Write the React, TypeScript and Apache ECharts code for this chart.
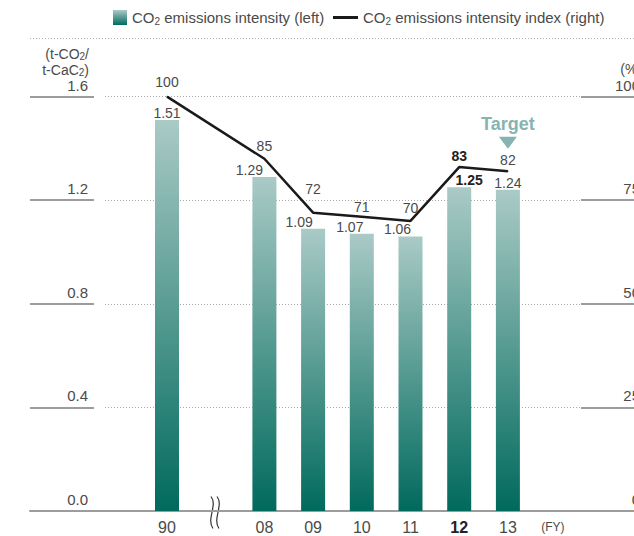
import React, { useEffect, useRef } from 'react';
import * as echarts from 'echarts';

// Fiscal years on the category axis ('' is the gap for the axis break)
const years = ['90', '', '08', '09', '10', '11', '12', '13'];
// CO2 emissions intensity, t-CO2 / t-CaC2 (left axis)
const intensity: (number | null)[] = [1.51, null, 1.29, 1.09, 1.07, 1.06, 1.25, 1.24];
// CO2 emissions intensity index, FY1990 = 100 (right axis)
const intensityIndex: (number | null)[] = [100, null, 85, 72, 71, 70, 83, 82];
const leftTicks = { min: 0, max: 1.6, interval: 0.4 };
const rightTicks = { min: 0, max: 100, interval: 25 };
const highlightYear = '12';
const targetYear = '13';

const FONT = '"Liberation Sans", Arial, Helvetica, sans-serif';
const TEXT = '#4a4a4a';
const RULE = '#9c9c9c';
const TEAL_LIGHT = '#aacac6';
const TEAL_DARK = '#006a5c';
const TARGET = '#86b4b0';

const barName = 'CO2 emissions intensity (left)';
const lineName = 'CO2 emissions intensity index (right)';

// lift of each index label above its point, keyed by year
const indexLabelLift: Record<string, number> = {
  '90': 7, '08': 5, '09': 16, '10': 2, '11': 5, '12': 4, '13': 4,
};
// sideways nudge of bar value labels so they clear the index line
const barLabelShift: Record<string, number> = {
  '08': -15, '09': -14, '10': -12, '11': -13, '12': 10,
};

const PLOT_TOP = 96.6;
const PLOT_H = 414.4;

const subRich = {
  s: { fontSize: 10, verticalAlign: 'bottom', fontFamily: FONT, color: TEXT, padding: [0, 0, -1, 0] },
};

// one line of the left scale's unit, with a subscript 2
const unitLine = (text: string, y: number) => ({
  type: 'text',
  x: 89,
  y,
  silent: true,
  style: {
    text,
    align: 'right',
    verticalAlign: 'middle',
    fontSize: 14,
    lineHeight: 14,
    fontFamily: FONT,
    fill: TEXT,
    rich: { s: { fontSize: 10, verticalAlign: 'bottom', fontFamily: FONT, fill: TEXT, lineHeight: 14 } },
  },
});

export default function App() {
  const ref = useRef<HTMLDivElement>(null);

  useEffect(() => {
    if (!ref.current) return;
    const chart = echarts.init(ref.current, undefined, { renderer: 'svg' });

    const barGradient = new echarts.graphic.LinearGradient(0, 0, 0, 1, [
      { offset: 0, color: TEAL_LIGHT },
      { offset: 1, color: TEAL_DARK },
    ]);

    const barData = intensity.map((v, i) => {
      const bold = years[i] === highlightYear;
      return {
        value: v,
        label: {
          offset: [barLabelShift[years[i]] ?? 0, 0],
          ...(bold ? { fontWeight: 'bold', color: '#222' } : {}),
        },
      };
    });

    const lineData = intensityIndex.map((v, i) => {
      const bold = years[i] === highlightYear;
      return {
        value: v,
        label: {
          distance: indexLabelLift[years[i]] ?? 5,
          ...(bold ? { fontWeight: 'bold', color: '#222' } : {}),
        },
      };
    });

    const categoryData = years.map((y) =>
      y === highlightYear
        ? { value: y, textStyle: { fontWeight: 'bold', color: '#222' } }
        : y,
    );

    const hiddenAxis = { show: false };

    const scaleLabel = {
      inside: true, margin: 6, fontSize: 15, color: TEXT, fontFamily: FONT,
      verticalAlign: 'bottom', padding: [0, 0, 4, 0],
    };

    const option: any = {
      animation: false,
      textStyle: { fontFamily: FONT },
      legend: [
        {
          data: [barName],
          left: 113,
          top: 10,
          padding: 0,
          itemWidth: 14,
          itemHeight: 15,
          icon: 'rect',
          selectedMode: false,
          formatter: () => 'CO{s|2} emissions intensity (left)',
          textStyle: { fontSize: 15, color: TEXT, fontFamily: FONT, rich: subRich },
        },
        {
          data: [{ name: lineName, icon: 'rect' }],
          left: 333,
          top: 10,
          padding: 0,
          itemWidth: 25,
          itemHeight: 3,
          selectedMode: false,
          formatter: () => 'CO{s|2} emissions intensity index (right)',
          textStyle: { fontSize: 15, color: TEXT, fontFamily: FONT, rich: subRich },
        },
      ],
      grid: [
        // bars and line
        { left: 142.65, width: 389.6, top: PLOT_TOP, height: PLOT_H },
        // dotted guide lines
        { left: 105, width: 475, top: PLOT_TOP, height: PLOT_H },
        // left scale
        { left: 30, width: 64, top: PLOT_TOP, height: PLOT_H },
        // right scale
        { left: 581, width: 65, top: PLOT_TOP, height: PLOT_H },
        // baseline
        { left: 30, width: 630, top: PLOT_TOP, height: PLOT_H },
      ],
      xAxis: [
        {
          type: 'category',
          gridIndex: 0,
          data: categoryData,
          axisLine: { show: false },
          axisTick: { show: false },
          axisLabel: { fontSize: 16, color: TEXT, margin: 8, fontFamily: FONT, interval: 0 },
          name: '(FY)',
          nameLocation: 'end',
          nameGap: 9,
          nameTextStyle: {
            fontSize: 12, color: TEXT, fontFamily: FONT,
            verticalAlign: 'top', align: 'left', padding: [10, 0, 0, 0],
          },
        },
        { type: 'value', gridIndex: 1, min: 0, max: 1, ...hiddenAxis },
        { type: 'value', gridIndex: 2, min: 0, max: 1, ...hiddenAxis },
        { type: 'value', gridIndex: 3, min: 0, max: 1, ...hiddenAxis },
        {
          type: 'value', gridIndex: 4, min: 0, max: 1,
          axisLine: { show: true, lineStyle: { color: RULE, width: 2 } },
          axisTick: { show: false },
          axisLabel: { show: false },
          splitLine: { show: false },
        },
      ],
      yAxis: [
        { type: 'value', gridIndex: 0, ...leftTicks, ...hiddenAxis },
        { type: 'value', gridIndex: 0, ...rightTicks, ...hiddenAxis },
        {
          type: 'value', gridIndex: 1, ...leftTicks,
          axisLine: { show: false }, axisTick: { show: false }, axisLabel: { show: false },
          splitLine: { show: true, lineStyle: { color: '#a8a8a8', width: 1, type: [1, 2] } },
        },
        {
          type: 'value', gridIndex: 2, position: 'right', ...leftTicks,
          axisLine: { show: false }, axisTick: { show: false },
          axisLabel: { ...scaleLabel, formatter: (v: number) => v.toFixed(1) },
          splitLine: { show: true, lineStyle: { color: RULE, width: 2 } },
        },
        {
          type: 'value', gridIndex: 3, position: 'right', ...rightTicks,
          axisLine: { show: false }, axisTick: { show: false },
          axisLabel: scaleLabel,
          splitLine: { show: true, lineStyle: { color: RULE, width: 2 } },
        },
        { type: 'value', gridIndex: 4, min: 0, max: 1, ...hiddenAxis },
      ],
      series: [
        {
          name: barName,
          type: 'bar',
          xAxisIndex: 0,
          yAxisIndex: 0,
          barWidth: 24,
          data: barData,
          itemStyle: { color: barGradient },
          label: {
            show: true, position: 'top', distance: 0,
            fontSize: 14, color: TEXT, fontFamily: FONT,
            formatter: (p: any) => (p.value == null ? '' : Number(p.value).toFixed(2)),
          },
          markPoint: {
            silent: true,
            data: [
              {
                coord: [targetYear, intensity[years.indexOf(targetYear)]],
                symbol: 'path://M0,0L18,0L9,12Z',
                symbolSize: [18, 12],
                symbolOffset: [0, -47],
                itemStyle: { color: TARGET },
                label: {
                  show: true, position: 'top', distance: 4, formatter: 'Target',
                  fontSize: 18, fontWeight: 'bold', color: TARGET, fontFamily: FONT,
                },
              },
            ],
          },
        },
        {
          name: lineName,
          type: 'line',
          xAxisIndex: 0,
          yAxisIndex: 1,
          connectNulls: true,
          symbol: 'circle',
          symbolSize: 1,
          data: lineData,
          itemStyle: { color: '#1a1a1a' },
          lineStyle: { color: '#1a1a1a', width: 2.5 },
          label: {
            show: true, position: 'top', fontSize: 14, color: TEXT, fontFamily: FONT,
          },
          z: 3,
        },
      ],
      graphic: [
        {
          type: 'line',
          shape: { x1: 30, y1: 38.5, x2: 660, y2: 38.5 },
          style: { stroke: '#b0b0b0', lineWidth: 1, lineDash: [1, 2] },
          silent: true,
        },
        // unit of the left scale
        unitLine('(t-CO{s|2}/', 54),
        unitLine('t-CaC{s|2})', 70),
        {
          // unit of the right scale
          type: 'text',
          x: 642,
          y: 69,
          silent: true,
          style: {
            text: '(%)',
            align: 'right',
            verticalAlign: 'middle',
            fontSize: 14,
            fontFamily: FONT,
            fill: TEXT,
          },
        },
        {
          // axis break between FY90 and FY08
          type: 'group',
          left: 208,
          top: 494,
          silent: true,
          children: [
            { type: 'rect', shape: { x: 1, y: 12, width: 13, height: 8 }, style: { fill: '#fff' } },
            {
              type: 'bezierCurve',
              shape: { x1: 4, y1: 0, cpx1: 11, cpy1: 9, cpx2: -1, cpy2: 22, x2: 6, y2: 32 },
              style: { stroke: '#333', lineWidth: 1.2, fill: 'none' },
            },
            {
              type: 'bezierCurve',
              shape: { x1: 10, y1: 0, cpx1: 17, cpy1: 9, cpx2: 5, cpy2: 22, x2: 12, y2: 32 },
              style: { stroke: '#333', lineWidth: 1.2, fill: 'none' },
            },
          ],
        },
      ],
    };

    chart.setOption(option);
    return () => chart.dispose();
  }, []);

  return (
    <div style={{ position: 'fixed', left: 0, top: 0, width: 634, height: 536, overflow: 'hidden', background: '#fff' }}>
      <div ref={ref} style={{ width: 660, height: 536 }} />
    </div>
  );
}
